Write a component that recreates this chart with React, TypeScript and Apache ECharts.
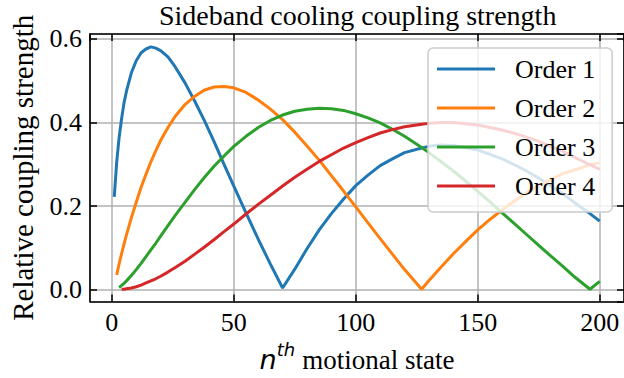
import React, { useEffect, useRef } from "react";
import * as echarts from "echarts";

// n-th motional state (x positions of the sampled points)
const nStates = [
  1, 2, 3, 4, 5, 6, 8, 10, 12, 14, 16, 18, 20, 23, 26, 30, 34, 38, 42, 46, 50,
  55, 60, 65, 70, 75, 80, 85, 90, 95, 100, 105, 110, 115, 120, 127, 130, 135,
  140, 145, 150, 155, 160, 165, 170, 175, 180, 185, 190, 196, 200,
];

const order1 = [
  0.222, 0.306, 0.365, 0.409, 0.447, 0.475, 0.519, 0.548, 0.567, 0.576, 0.581,
  0.578, 0.572, 0.557, 0.533, 0.495, 0.451, 0.404, 0.353, 0.3, 0.248, 0.184,
  0.121, 0.061, 0.004, 0.049, 0.098, 0.143, 0.182, 0.217, 0.249, 0.274, 0.297,
  0.313, 0.328, 0.339, 0.343, 0.346, 0.345, 0.34, 0.334, 0.324, 0.313, 0.299,
  0.284, 0.267, 0.248, 0.229, 0.207, 0.182, 0.164,
];

const order2 = [
  null, 0.035, 0.062, 0.086, 0.109, 0.131, 0.172, 0.209, 0.245, 0.276, 0.306,
  0.332, 0.357, 0.388, 0.415, 0.443, 0.463, 0.478, 0.485, 0.486, 0.483, 0.472,
  0.454, 0.432, 0.407, 0.377, 0.344, 0.31, 0.273, 0.236, 0.198, 0.16, 0.122,
  0.085, 0.048, 0.001, 0.022, 0.054, 0.086, 0.115, 0.143, 0.168, 0.191, 0.212,
  0.232, 0.249, 0.264, 0.278, 0.287, 0.299, 0.304,
];

const order3 = [
  null, null, 0.005, 0.01, 0.015, 0.021, 0.034, 0.048, 0.063, 0.079, 0.095,
  0.111, 0.128, 0.153, 0.178, 0.209, 0.24, 0.269, 0.296, 0.32, 0.343, 0.367,
  0.388, 0.405, 0.418, 0.427, 0.432, 0.434, 0.433, 0.429, 0.421, 0.411, 0.399,
  0.384, 0.367, 0.34, 0.328, 0.306, 0.284, 0.26, 0.235, 0.21, 0.184, 0.158,
  0.132, 0.106, 0.08, 0.055, 0.029, 0.001, 0.02,
];

const order4 = [
  null, null, null, 0.001, 0.001, 0.002, 0.004, 0.007, 0.011, 0.016, 0.021,
  0.026, 0.032, 0.042, 0.053, 0.068, 0.085, 0.102, 0.12, 0.139, 0.157, 0.181,
  0.204, 0.226, 0.248, 0.269, 0.288, 0.307, 0.323, 0.339, 0.352, 0.364, 0.375,
  0.383, 0.39, 0.396, 0.398, 0.4, 0.4, 0.397, 0.394, 0.388, 0.382, 0.374,
  0.365, 0.355, 0.343, 0.331, 0.316, 0.299, 0.288,
];

const seriesNames = ["Order 1", "Order 2", "Order 3", "Order 4"];
const seriesValues = [order1, order2, order3, order4];
const seriesColors = ["#1f77b4", "#ff7f0e", "#2ca02c", "#d62728"];

const titleText = "Sideband cooling coupling strength";
const yAxisTitle = "Relative coupling strength";

const xRange = [-8.95, 209.95];
const yRange = [-0.0286, 0.6119];
const xStep = 50;
const yStep = 0.2;

export default function App() {
  const ref = useRef<HTMLDivElement>(null);

  useEffect(() => {
    const chart = echarts.init(ref.current!, null, { renderer: "svg" });
    const serif = "Liberation Serif";
    const black = "#000";

    const tickStyle = {
      show: true,
      inside: true,
      length: 7,
      lineStyle: { color: black, width: 1.5 },
    };
    const lineStyle = { show: true, onZero: false, lineStyle: { color: black, width: 1.6 } };
    const gridLine = { show: true, lineStyle: { color: "#b0b0b0", width: 1.5 } };

    const series = seriesNames.map((name, s) => ({
      name,
      type: "line",
      xAxisIndex: 0,
      yAxisIndex: 0,
      showSymbol: false,
      symbol: "none",
      color: seriesColors[s],
      lineStyle: { width: 3, color: seriesColors[s] },
      data: nStates
        .map((n, i) => [n, seriesValues[s][i]])
        .filter((p) => p[1] !== null),
    }));

    chart.setOption({
      animation: false,
      backgroundColor: "#fff",
      textStyle: { fontFamily: serif, fontWeight: "normal", fontStyle: "normal" },
      title: {
        text: titleText,
        left: 159,
        top: 1,
        padding: 0,
        textStyle: { fontFamily: serif, fontSize: 28, fontWeight: "normal", color: black },
      },
      legend: {
        orient: "vertical",
        left: 428,
        top: 48,
        padding: [8, 17, 13, 9],
        itemWidth: 58,
        itemHeight: 3,
        itemGap: 13,
        icon: "rect",
        backgroundColor: "rgba(255,255,255,0.8)",
        borderColor: "#cccccc",
        borderWidth: 1.5,
        borderRadius: 5,
        itemStyle: { borderWidth: 0 },
        textStyle: {
          fontFamily: serif,
          fontWeight: "normal",
          fontStyle: "normal",
          fontSize: 26,
          color: black,
          lineHeight: 26,
          padding: [0, 0, 0, 15],
        },
        data: seriesNames,
      },
      grid: { left: 81.5, right: -1.4, top: 34, bottom: 74 },
      xAxis: [
        {
          type: "value",
          position: "bottom",
          min: xRange[0],
          max: xRange[1],
          splitNumber: 4,
          minInterval: xStep,
          maxInterval: xStep,
          axisLine: lineStyle,
          axisTick: tickStyle,
          splitLine: gridLine,
          axisLabel: {
            showMinLabel: false,
            showMaxLabel: false,
            margin: 8,
            fontFamily: serif,
            fontWeight: "normal",
            fontStyle: "normal",
            fontSize: 26,
            color: black,
            formatter: (v: number) => String(Math.round(v)),
          },
          name: "{n|n}{sup|th}{t|motional state}",
          nameLocation: "middle",
          nameGap: 32,
          nameTextStyle: {
            rich: {
              n: {
                fontFamily: "DejaVu Sans",
                fontStyle: "italic",
                fontSize: 27,
                lineHeight: 38,
                color: black,
              },
              sup: {
                fontFamily: "DejaVu Sans",
                fontStyle: "italic",
                fontSize: 18,
                lineHeight: 19,
                verticalAlign: "top",
                color: black,
              },
              t: {
                fontFamily: serif,
                fontSize: 27,
                lineHeight: 38,
                padding: [0, 0, 0, 7],
                color: black,
              },
            },
          },
        },
        {
          type: "value",
          position: "top",
          min: xRange[0],
          max: xRange[1],
          splitNumber: 4,
          minInterval: xStep,
          maxInterval: xStep,
          axisLine: lineStyle,
          axisTick: tickStyle,
          splitLine: { show: false },
          axisLabel: { show: false },
        },
      ],
      yAxis: [
        {
          type: "value",
          position: "left",
          min: yRange[0],
          max: yRange[1],
          splitNumber: 3,
          minInterval: yStep,
          maxInterval: yStep,
          axisLine: lineStyle,
          axisTick: tickStyle,
          splitLine: gridLine,
          axisLabel: {
            showMinLabel: false,
            showMaxLabel: false,
            margin: 8,
            fontFamily: serif,
            fontWeight: "normal",
            fontStyle: "normal",
            fontSize: 26,
            color: black,
            formatter: (v: number) => v.toFixed(1),
          },
          name: yAxisTitle,
          nameLocation: "middle",
          nameRotate: 90,
          nameGap: 53,
          nameTextStyle: { fontFamily: serif, fontSize: 29, color: black },
        },
        {
          type: "value",
          position: "right",
          min: yRange[0],
          max: yRange[1],
          splitNumber: 3,
          minInterval: yStep,
          maxInterval: yStep,
          axisLine: lineStyle,
          axisTick: tickStyle,
          splitLine: { show: false },
          axisLabel: { show: false },
        },
      ],
      series,
    });

    return () => chart.dispose();
  }, []);

  return (
    <div
      ref={ref}
      style={{ position: "fixed", left: 0, top: 0, width: 624, height: 378, background: "#fff" }}
    />
  );
}
